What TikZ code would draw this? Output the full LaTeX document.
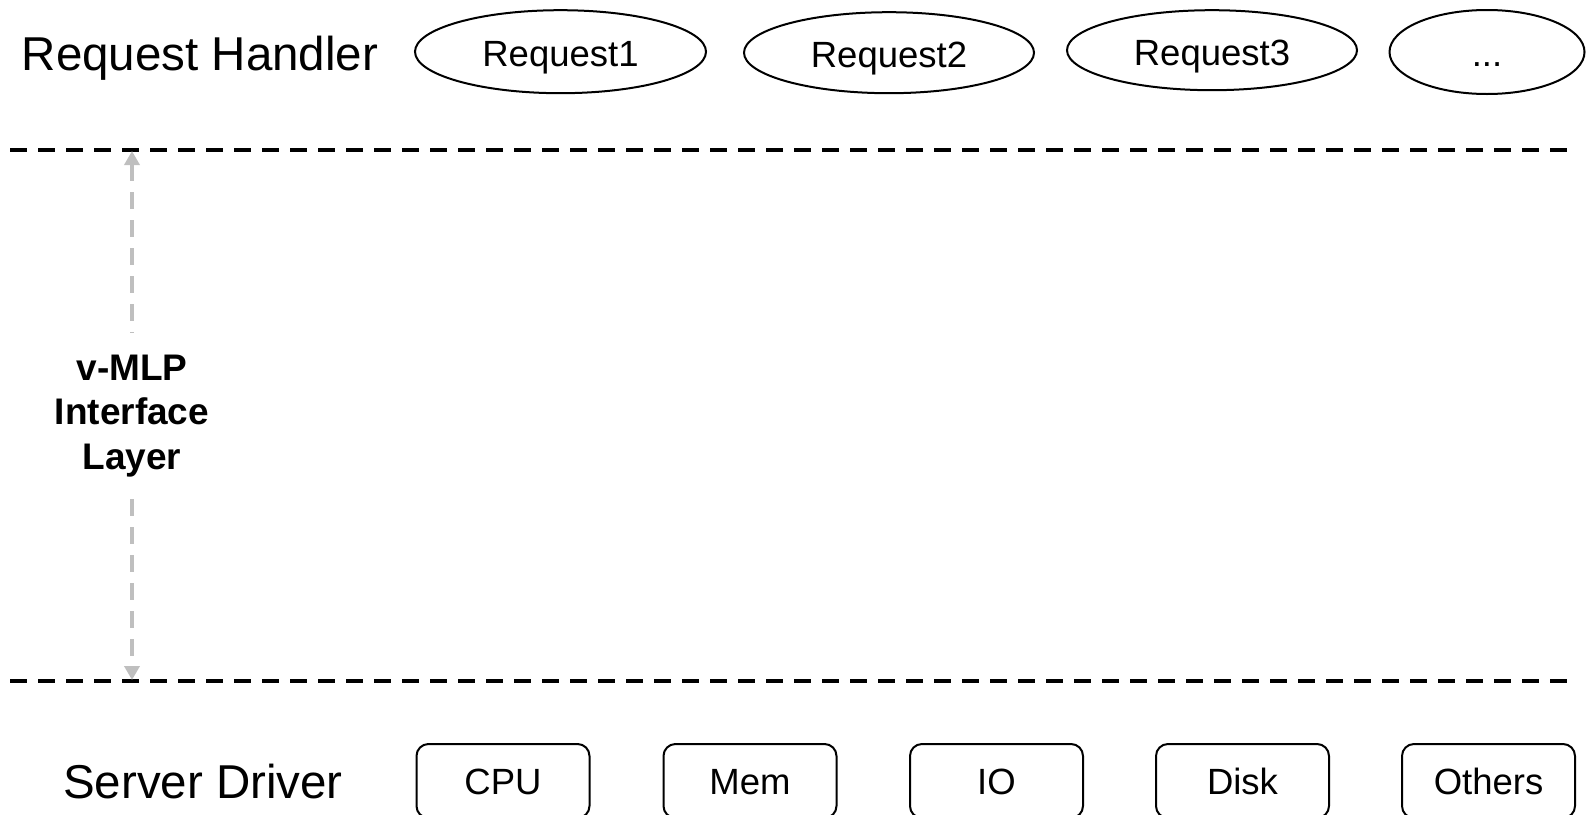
\documentclass[tikz,border=0pt]{standalone}
\usepackage{fontspec}
\setmainfont{Liberation Sans}
\usetikzlibrary{shapes.geometric,arrows.meta}
\definecolor{spangray}{RGB}{191,191,191}
\tikzset{spantip/.tip={Triangle[width=7.5pt,length=7pt]}}
\begin{document}
\begin{tikzpicture}[x=0.5pt,y=-0.5pt,
  layer/.style={font=\fontsize{23.75}{28}\selectfont, inner sep=0,
    text height=17pt, text depth=0pt},
  req/.style={draw, line width=1pt, ellipse, inner sep=0,
    text height=14.9pt, text depth=0pt,
    font=\fontsize{18.25}{22}\selectfont},
  res/.style={draw, line width=1pt, rounded corners=6pt, minimum width=86.5pt,
    minimum height=37pt, inner sep=0, text height=13.07pt, text depth=0pt,
    font=\fontsize{18.25}{22}\selectfont},
  divider/.style={line width=1.75pt, dash pattern=on 8.5pt off 5.5pt},
  span/.style={draw=spangray, line width=2pt, dash pattern=on 8.5pt off 5.5pt},
  iface/.style={align=center, inner sep=0, minimum height=83pt,
    font=\fontsize{18.5}{22.25}\selectfont\bfseries},
]
\useasboundingbox (0,0) rectangle (1589,814);

% request handler row
\node[layer] (rh) at (200,53) {Request Handler};
\node[req, minimum width=145.5pt, minimum height=41.5pt] (r1) at (560.5,51.7) {Request1};
\node[req, minimum width=145pt, minimum height=40.5pt] (r2) at (889,52.7) {Request2};
\node[req, minimum width=145pt, minimum height=40pt] (r3) at (1212,50.2) {Request3};
\node[req, minimum width=97.5pt, minimum height=42pt] (r4) at (1487,52) {...};

% layer boundaries
\coordinate (topL) at (10,150);
\coordinate (topR) at (1569,150);
\coordinate (botL) at (10,681);
\coordinate (botR) at (1569,681);
\draw[divider] (topL) -- (topR);
\draw[divider] (botL) -- (botR);

% interface layer label and its extent
\node[iface] (ifl) at (132,416) {v-MLP\\Interface\\Layer};
\coordinate (spanTop) at (132,151);
\coordinate (spanBot) at (132,680);
\draw[span, {spantip}-] (spanTop) -- (ifl.north);
\draw[span, -{spantip}] (ifl.south) -- (spanBot);

% server driver row
\node[layer] (sd) at (203,781) {Server Driver};
\node[res] (cpu) at (503,781) {CPU};
\node[res] (mem) at (750,781) {Mem};
\node[res] (io) at (996.5,781) {IO};
\node[res] (disk) at (1242.5,781) {Disk};
\node[res] (oth) at (1488.5,781) {Others};
\end{tikzpicture}
\end{document}
